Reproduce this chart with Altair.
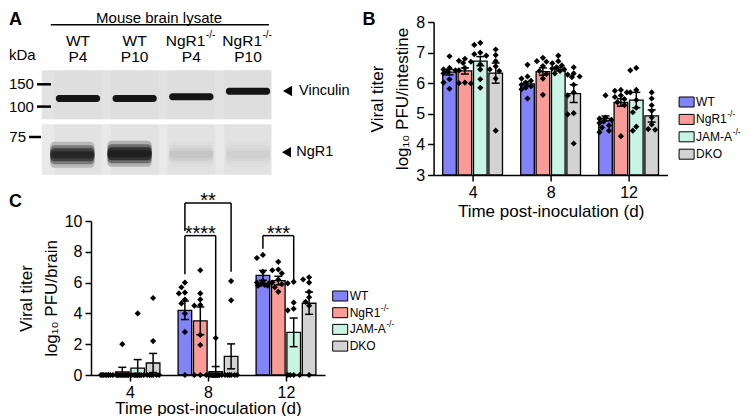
import altair as alt
import pandas as pd

FONT = "Liberation Sans"

# ---------------- shared categories ----------------
genotypes = ["WT", "NgR1", "JAM-A", "DKO"]
genotype_sup = ["", "-/-", "-/-", ""]
genotype_colors = ["#8383f9", "#f99c97", "#c8f5e3", "#d3d3d3"]
times = [4, 8, 12]

# ---------------- panel B: log10 PFU / intestine ----------------
intestine_mean = {4: [6.36, 6.40, 6.72, 6.33], 8: [5.98, 6.38, 6.46, 5.66], 12: [4.85, 5.37, 5.45, 4.93]}
intestine_sem = {4: [0.09, 0.10, 0.15, 0.33], 8: [0.07, 0.12, 0.06, 0.29], 12: [0.08, 0.12, 0.25, 0.20]}
intestine_points = {
    4: [[6.88, 6.50, 6.45, 6.42, 6.38, 6.32, 6.13, 6.02, 5.82],
        [6.80, 6.73, 6.70, 6.66, 6.50, 6.42, 6.02, 6.00, 5.99],
        [7.32, 7.25, 7.00, 6.95, 6.90, 6.62, 6.45, 6.13, 5.85],
        [7.10, 6.92, 6.72, 6.55, 6.45, 6.40, 6.15, 4.45]],
    8: [[6.60, 6.22, 6.15, 6.08, 6.02, 5.95, 5.90, 5.85, 5.80, 5.50],
        [6.83, 6.72, 6.70, 6.56, 6.40, 6.30, 6.15, 5.62],
        [6.90, 6.72, 6.65, 6.58, 6.52, 6.48, 6.45, 6.40, 6.32],
        [6.52, 6.32, 6.28, 6.22, 6.20, 5.95, 5.70, 5.60, 5.02, 4.98, 4.03]],
    12: [[5.60, 4.88, 4.84, 4.80, 4.75, 4.70, 4.62, 4.55, 4.45, 4.40],
         [5.78, 5.75, 5.70, 5.60, 5.55, 5.48, 5.38, 5.28, 4.27],
         [6.50, 6.42, 5.78, 5.70, 5.45, 5.20, 5.05, 4.58, 4.45],
         [5.70, 5.50, 5.28, 5.10, 4.88, 4.65, 4.50, 4.48]],
}

# ---------------- panel C: log10 PFU / brain ----------------
brain_mean = {4: [0.0, 0.20, 0.45, 0.78], 8: [4.20, 3.52, 0.21, 1.21], 12: [6.47, 6.13, 2.77, 4.66]}
brain_sem = {4: [0.0, 0.30, 0.55, 0.62], 8: [0.60, 0.90, 0.34, 0.81], 12: [0.32, 0.28, 0.93, 0.72]}
brain_points = {
    4: [[0, 0, 0, 0, 0, 0, 0, 0],
        [2.0, 0, 0, 0, 0, 0, 0, 0, 0, 0],
        [4.0, 0, 0, 0, 0, 0, 0, 0],
        [5.0, 2.2, 0, 0, 0, 0, 0, 0]],
    8: [[6.0, 5.7, 5.35, 5.3, 4.9, 4.65, 4.0, 2.8, 0],
        [6.8, 5.3, 4.9, 4.55, 4.5, 2.6, 1.95, 0, 0, 0],
        [2.4, 0, 0, 0, 0, 0, 0, 0, 0],
        [6.1, 4.85, 0, 0, 0, 0, 0, 0]],
    12: [[7.8, 7.6, 6.7, 6.1, 6.0, 5.95, 5.9, 5.85, 5.8, 5.8],
         [7.35, 6.85, 6.8, 6.6, 6.2, 6.0, 5.9, 5.7, 5.4],
         [6.05, 5.95, 4.7, 4.3, 4.2, 0, 0, 0, 0],
         [6.35, 6.2, 6.0, 5.4, 5.05, 4.75, 4.5, 0]],
}
# significance brackets (panel C)
bracket_time = [8, 8, 12]
bracket_from = ["WT", "WT", "WT"]
bracket_to = ["DKO", "JAM-A", "JAM-A"]
bracket_top = [11.17, 9.05, 9.05]
bracket_left_end = [9.35, 6.55, 8.2]
bracket_right_end = [6.7, 0.5, 6.05]
bracket_label = ["**", "****", "***"]

# ---------------- panel A: western blot ----------------
lanes = [1, 2, 3, 4]
lane_top_labels = ["WT", "WT", "NgR1", "NgR1"]
lane_sup_labels = ["", "", "-/-", "-/-"]
lane_bottom_labels = ["P4", "P10", "P4", "P10"]
blot_strip_top = [0, 54]
blot_strip_bottom = [49, 104.5]
blot_strip_fill = ["#e2e2e2", "#e9e9e9"]
blot_span = [0.36, 4.41]
vinculin_row = [28.3, 28.3, 26.5, 21.0]
ngr1_lane_x = [0.9, 1.91, 3.0, 4.0]
ngr1_row = [84.5, 83.5, 84.0, 84.0]
ngr1_level = [0.85, 1.0, 0.06, 0.04]
ladder_kda = ["150", "100", "75"]
ladder_row = [14.0, 36.3, 66.7]
ladder_x0 = [0.276, 0.276, 0.135]
ladder_x1 = [0.523, 0.523, 0.347]
target_names = ["Vinculin", "NgR1"]
target_row = [20.7, 82.0]
target_arrow_x = [4.697, 4.679]
target_text_x = [4.90, 4.85]

# ---------------- layout / style constants ----------------
PANEL_W = 234
B_H = 153
C_H = 154
A_W = 180
A_H = 153
BAR_STEP_PX = 15.4
BAR_HALF_PX = 6.8
CAP_HALF_PX = 4.0
LEG_FONT = 12
ARIAL_EM = {"W": .944, "T": .611, "N": .722, "g": .556, "R": .722, "1": .556, "J": .5,
            "A": .667, "M": .833, "-": .333, "D": .722, "K": .667, "O": .778}


def text_width(s, size):
    return sum(ARIAL_EM.get(c, .556) for c in s) * size


def swarm(vals, px_per_val, d=5.0):
    cands = [0, -3.5, 3.5, -6.0, 6.0, -1.75, 1.75, -4.75, 4.75]
    placed = []
    res = [0.0] * len(vals)
    order = sorted(range(len(vals)), key=lambda i: -vals[i])
    for i in order:
        y = vals[i] * px_per_val
        best, best_score = 0.0, -1.0
        for c in cands:
            mind = min([((y - py) ** 2 + (c - po) ** 2) ** 0.5 for py, po in placed], default=99.0)
            if mind >= d:
                best = c
                break
            if mind > best_score:
                best_score, best = mind, c
        placed.append((y, best))
        res[i] = best
    return res


def legend_layers(x_sym, y_first, y_step):
    df = pd.DataFrame(dict(geno=genotypes, sup=genotype_sup))
    ys = alt.Scale(type="point", domain=genotypes, range=[y_first, y_first + 3 * y_step], padding=0)
    yl = alt.Y("geno:N", scale=ys, axis=None)
    out = [
        alt.Chart(df).mark_point(shape="M-1.5,-1H1.5V1H-1.5Z", size=100, filled=True, stroke="black",
                                 strokeWidth=1, opacity=1).encode(
            x=alt.value(x_sym), y=yl,
            fill=alt.Fill("geno:N", scale=alt.Scale(domain=genotypes, range=genotype_colors), legend=None)),
        alt.Chart(df).mark_text(font=FONT, fontSize=LEG_FONT, align="left", baseline="middle",
                                color="black").encode(x=alt.value(x_sym + 9.5), y=yl, text="geno:N"),
    ]
    for g, s in zip(genotypes, genotype_sup):
        if s:
            out.append(
                alt.Chart(df).transform_filter(alt.datum.geno == g).mark_text(
                    font=FONT, fontSize=8.5, align="left", baseline="middle", color="black",
                    dx=text_width(g, LEG_FONT) + 0.5, dy=-5).encode(
                    x=alt.value(x_sym + 9.5), y=yl, text="sup:N"))
    return out


def bar_panel(means, sems, points, ydom, yvals, height, ytitle, legend_pos, letter, letter_xy,
              xaxis_style, brackets=False):
    pxu = PANEL_W / 12.0
    step_u = BAR_STEP_PX / pxu
    half_u = BAR_HALF_PX / pxu
    cap_u = CAP_HALF_PX / pxu
    pxv = height / (ydom[1] - ydom[0])
    bars, pts, errs = [], [], []
    centers = {}
    for t in times:
        for j, g in enumerate(genotypes):
            xc = t + (j - 1.5) * step_u
            centers[(t, g)] = xc
            m, s = means[t][j], sems[t][j]
            bars.append(dict(geno=g, x1=xc - half_u, x2=xc + half_u, v=m, base=ydom[0]))
            if s > 0:
                errs.append(dict(x=xc, xa=xc - cap_u, xb=xc + cap_u, lo=m - s, hi=m + s))
            vals = points[t][j]
            offs = swarm(vals, pxv)
            for v, o in zip(vals, offs):
                pts.append(dict(x=xc + o / pxu, v=v))

    xs = alt.Scale(domain=[2, 14], nice=False, zero=False)
    ys = alt.Scale(domain=ydom, nice=False, zero=False)
    xaxis = alt.Axis(values=times, format="d", title="Time post-inoculation (d)", **xaxis_style)
    yaxis = alt.Axis(values=yvals, format="d", title=ytitle, titlePadding=4, titleLineHeight=25,
                     labelPadding=3)

    def X(f):
        return alt.X(f, type="quantitative", scale=xs, axis=xaxis)

    def Y(f):
        return alt.Y(f, type="quantitative", scale=ys, axis=yaxis)

    bar_layer = alt.Chart(pd.DataFrame(bars)).mark_bar(stroke="black", strokeWidth=1.3).encode(
        x=X("x1"), x2="x2", y=Y("v"), y2="base",
        fill=alt.Fill("geno:N", scale=alt.Scale(domain=genotypes, range=genotype_colors), legend=None),
    )
    pt_layer = alt.Chart(pd.DataFrame(pts)).mark_point(
        shape="diamond", filled=True, color="black", size=38, opacity=1).encode(x=X("x"), y=Y("v"))
    err_df = pd.DataFrame(errs)
    err_layer = alt.Chart(err_df).mark_rule(color="black", strokeWidth=1.5).encode(
        x=X("x"), y=Y("lo"), y2="hi")
    cap_hi = alt.Chart(err_df).mark_rule(color="black", strokeWidth=1.5).encode(
        x=X("xa"), x2="xb", y=Y("hi"))
    cap_lo = alt.Chart(err_df).mark_rule(color="black", strokeWidth=1.5).encode(
        x=X("xa"), x2="xb", y=Y("lo"))
    letter_layer = alt.Chart(pd.DataFrame({"t": [letter]})).mark_text(
        font=FONT, fontSize=18, fontWeight="bold", align="left", baseline="middle", color="black"
    ).encode(x=alt.value(letter_xy[0]), y=alt.value(letter_xy[1]), text="t:N")
    layers = [bar_layer, pt_layer, err_layer, cap_hi, cap_lo, letter_layer]

    if brackets:
        rows = []
        for t, a, b, top, le, re, lab in zip(bracket_time, bracket_from, bracket_to, bracket_top,
                                              bracket_left_end, bracket_right_end, bracket_label):
            lx, rx = centers[(t, a)], centers[(t, b)]
            rows.append(dict(lx=lx, rx=rx, mx=(lx + rx) / 2, top=top, le=le, re=re, lab=lab))
        bdf = pd.DataFrame(rows)
        layers += [
            alt.Chart(bdf).mark_rule(color="black", strokeWidth=1.5).encode(x=X("lx"), x2="rx", y=Y("top")),
            alt.Chart(bdf).mark_rule(color="black", strokeWidth=1.5).encode(x=X("lx"), y=Y("top"), y2="le"),
            alt.Chart(bdf).mark_rule(color="black", strokeWidth=1.5).encode(x=X("rx"), y=Y("top"), y2="re"),
            alt.Chart(bdf).mark_text(font=FONT, fontSize=20, baseline="alphabetic", dy=4, color="black").encode(
                x=X("mx"), y=Y("top"), text="lab:N"),
        ]
    inner = alt.layer(*layers)
    return alt.layer(inner, *legend_layers(*legend_pos)).resolve_scale(y="independent").properties(
        width=PANEL_W, height=height)


chart_b = bar_panel(intestine_mean, intestine_sem, intestine_points, [3, 8], [3, 4, 5, 6, 7, 8], B_H,
                    ["Viral titer", "log₁₀ PFU/intestine"], (253, 80, 17.4), "B", (-71, -1.7),
                    dict(titlePadding=3, labelPadding=3))
chart_c = bar_panel(brain_mean, brain_sem, brain_points, [0, 10], [0, 2, 4, 6, 8, 10], C_H,
                    ["Viral titer", "log₁₀ PFU/brain"], (249.2, 75, 16.7), "C", (-82, -19),
                    dict(titlePadding=0, labelPadding=3), brackets=True)

# ---------------- panel A chart ----------------
XA = alt.Scale(domain=[1.2294, 1.2294 + A_W / 56.67], nice=False, zero=False)
YA = alt.Scale(domain=[-48.3, 104.7], reverse=True, nice=False, zero=False)


def AX(f):
    return alt.X(f, type="quantitative", scale=XA, axis=None)


def AY(f):
    return alt.Y(f, type="quantitative", scale=YA, axis=None)


strips = pd.DataFrame(dict(x0=[blot_span[0]] * 2, x1=[blot_span[1]] * 2, top=blot_strip_top,
                           bot=blot_strip_bottom, fill=blot_strip_fill))
streak_rows = []
for ln in lanes:
    for tp, bt in zip(blot_strip_top, blot_strip_bottom):
        streak_rows.append(dict(x0=ln - 0.42, x1=ln + 0.42, top=tp, bot=bt))
streaks = pd.DataFrame(streak_rows)
vinc = pd.DataFrame(dict(x0=[l - 0.39 for l in lanes], x1=[l + 0.39 for l in lanes],
                         top=[r - 3.5 for r in vinculin_row], bot=[r + 3.5 for r in vinculin_row]))
ngr_layers = []
for hh, op in [(13, 0.25), (9.5, 0.45), (6.5, 0.7), (3.5, 0.8)]:
    d = pd.DataFrame(dict(x0=[x - 0.39 for x in ngr1_lane_x], x1=[x + 0.39 for x in ngr1_lane_x],
                          top=[r - hh for r in ngr1_row], bot=[r + hh for r in ngr1_row],
                          op=[lv * op for lv in ngr1_level]))
    ngr_layers.append(alt.Chart(d).mark_rect(color="#1a1a1a", cornerRadius=4).encode(
        x=AX("x0"), x2="x1", y=AY("top"), y2="bot", opacity=alt.Opacity("op:Q", scale=None)))

ladder = pd.DataFrame(dict(kda=ladder_kda, r=ladder_row, x0=ladder_x0, x1=ladder_x1))
lane_df = pd.DataFrame(dict(u=lanes, top=lane_top_labels, sup=lane_sup_labels, bot=lane_bottom_labels))
plain_top = lane_df[lane_df["sup"] == ""]
sup_top = lane_df[lane_df["sup"] != ""]
targets = pd.DataFrame(dict(name=target_names, r=target_row, ax=target_arrow_x, tx=target_text_x))


def txt(**kw):
    base = dict(font=FONT, color="black")
    base.update(kw)
    return base


layers_a = [
    alt.Chart(strips).mark_rect().encode(x=AX("x0"), x2="x1", y=AY("top"), y2="bot",
                                         fill=alt.Fill("fill:N", scale=None)),
    alt.Chart(streaks).mark_rect(color="#d8d8d8", opacity=0.35).encode(x=AX("x0"), x2="x1", y=AY("top"), y2="bot"),
    alt.Chart(vinc).mark_rect(color="#151515", cornerRadius=3).encode(x=AX("x0"), x2="x1", y=AY("top"), y2="bot"),
    *ngr_layers,
    alt.Chart(ladder).mark_rule(color="black", strokeWidth=2.5).encode(x=AX("x0"), x2="x1", y=AY("r")),
    alt.Chart(ladder).mark_text(**txt(fontSize=15, align="right", baseline="middle", dx=-3)).encode(
        x=AX("x0"), y=AY("r"), text="kda:N"),
    alt.Chart(pd.DataFrame(dict(u=[-0.218], r=[-15], t=["kDa"]))).mark_text(
        **txt(fontSize=15, align="left", baseline="middle")).encode(x=AX("u"), y=AY("r"), text="t:N"),
    alt.Chart(pd.DataFrame(dict(u=[-0.218], r=[-50], t=["A"]))).mark_text(
        **txt(fontSize=18, fontWeight="bold", align="left", baseline="middle")).encode(x=AX("u"), y=AY("r"), text="t:N"),
    alt.Chart(pd.DataFrame(dict(u=[2.43], r=[-52], t=["Mouse brain lysate"]))).mark_text(
        **txt(fontSize=15, align="center", baseline="middle")).encode(x=AX("u"), y=AY("r"), text="t:N"),
    alt.Chart(pd.DataFrame(dict(u0=[0.52], u1=[4.37], r=[-45.5]))).mark_rule(color="black", strokeWidth=1.5).encode(
        x=AX("u0"), x2="u1", y=AY("r")),
    alt.Chart(plain_top).mark_text(**txt(fontSize=15.5, align="center", baseline="middle")).encode(
        x=AX("u"), y=alt.Y("datum_r:Q", scale=YA, axis=None), text="top:N").transform_calculate(datum_r="-29"),
    alt.Chart(sup_top).mark_text(**txt(fontSize=15.5, align="right", baseline="middle", dx=14)).encode(
        x=AX("u"), y=alt.Y("datum_r:Q", scale=YA, axis=None), text="top:N").transform_calculate(datum_r="-29"),
    alt.Chart(sup_top).mark_text(**txt(fontSize=10, align="left", baseline="middle", dx=14.5, dy=-6)).encode(
        x=AX("u"), y=alt.Y("datum_r:Q", scale=YA, axis=None), text="sup:N").transform_calculate(datum_r="-29"),
    alt.Chart(lane_df).mark_text(**txt(fontSize=15.5, align="center", baseline="middle")).encode(
        x=AX("u"), y=alt.Y("datum_r:Q", scale=YA, axis=None), text="bot:N").transform_calculate(datum_r="-13"),
    alt.Chart(targets).mark_point(shape="triangle-left", filled=True, color="black", size=110, opacity=1).encode(
        x=AX("ax"), y=AY("r")),
    alt.Chart(targets).mark_text(**txt(fontSize=14.5, align="left", baseline="middle")).encode(
        x=AX("tx"), y=AY("r"), text="name:N"),
]
chart_a = alt.layer(*layers_a).properties(width=A_W, height=A_H)

chart = alt.concat(
    chart_a, chart_b, chart_c, columns=2,
    spacing={"row": 46, "column": 108.6}, bounds="flush", align="each",
    padding={"left": 0, "top": 3, "right": 0, "bottom": 0},
).resolve_scale(fill="independent").configure_view(
    strokeWidth=0
).configure_axis(
    grid=False, domainColor="black", domainWidth=1.5, tickColor="black", tickWidth=1.5, tickSize=6,
    labelFont=FONT, labelFontSize=16, labelColor="black", titleFont=FONT, titleFontSize=17,
    titleFontWeight="normal", titleColor="black",
)

chart.save("out.html", embed_options={"renderer": "svg", "actions": False})
